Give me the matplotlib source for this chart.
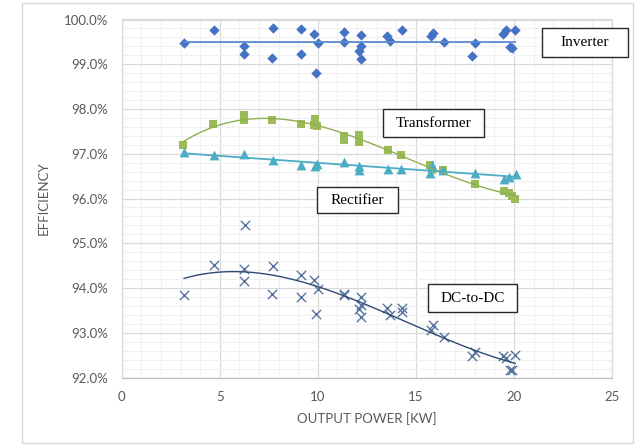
import numpy as np
import matplotlib
matplotlib.use("Agg")
import matplotlib.pyplot as plt
from matplotlib.patches import Rectangle
from matplotlib.ticker import MultipleLocator, FuncFormatter

# ---------------- data (percent) ----------------
inv_x = [3.18, 4.69, 6.22, 6.22, 7.69, 7.66, 9.15, 9.15, 9.83, 10.02, 9.91, 11.32, 11.35,
         12.18, 12.18, 12.08, 12.18, 13.55, 13.66, 14.27, 15.77, 15.89, 16.44, 18.0, 17.86,
         19.45, 19.59, 20.06, 19.79, 19.91]
inv_y = [99.48, 99.76, 99.41, 99.22, 99.81, 99.15, 99.78, 99.22, 99.68, 99.48, 98.81, 99.71, 99.50,
         99.66, 99.41, 99.30, 99.12, 99.64, 99.52, 99.77, 99.63, 99.70, 99.50, 99.48, 99.19,
         99.67, 99.77, 99.77, 99.39, 99.37]

tr_x = [3.15, 4.64, 6.22, 6.22, 7.66, 9.15, 9.88, 9.79, 9.98, 11.32, 11.32, 12.11, 12.11,
        13.60, 14.23, 15.72, 15.84, 16.40, 18.0, 19.49, 19.74, 19.91, 20.06]
tr_y = [97.19, 97.67, 97.87, 97.75, 97.75, 97.67, 97.78, 97.64, 97.61, 97.39, 97.30, 97.41, 97.27,
        97.08, 96.97, 96.74, 96.63, 96.63, 96.32, 96.16, 96.13, 96.06, 96.00]

re_x = [3.18, 4.69, 6.22, 7.69, 9.15, 9.88, 9.95, 11.32, 12.11, 12.11, 13.60, 14.23, 15.72,
        15.84, 16.40, 18.0, 19.49, 19.74, 20.08]
re_y = [97.04, 96.98, 97.00, 96.86, 96.75, 96.72, 96.78, 96.81, 96.72, 96.63, 96.67, 96.67, 96.58,
        96.74, 96.63, 96.58, 96.43, 96.49, 96.54]

dc_x = [6.27, 4.69, 6.22, 6.22, 3.18, 7.69, 7.66, 9.15, 9.15, 9.83, 10.02, 9.91, 11.32, 11.35,
        12.18, 12.18, 12.08, 12.18, 13.55, 13.66, 14.27, 14.27, 15.77, 15.89, 16.44, 18.0, 17.86,
        19.45, 19.59, 20.06, 19.79, 19.91]
dc_y = [95.41, 94.52, 94.43, 94.15, 93.85, 94.49, 93.87, 94.30, 93.80, 94.17, 93.98, 93.43, 93.87,
        93.85, 93.80, 93.61, 93.52, 93.36, 93.56, 93.39, 93.56, 93.47, 93.06, 93.17, 92.91, 92.56,
        92.47, 92.47, 92.43, 92.50, 92.17, 92.16]

labels = ["Inverter", "Transformer", "Rectifier", "DC-to-DC"]
x_ticks = [0, 5, 10, 15, 20, 25]

# ---------------- figure ----------------
W, H = 641, 448
fig = plt.figure(figsize=(W / 100, H / 100), dpi=100)
fig.patch.set_facecolor("white")

# outer chart border
fig.patches.append(Rectangle((22 / W, 1 - 443 / H), (633 - 22) / W, (443 - 3) / H,
                             transform=fig.transFigure, fill=False,
                             edgecolor="#D9D9D9", linewidth=1.0))

L, R, T, B = 121.7, 612, 19.5, 377.5
ax = fig.add_axes([L / W, 1 - B / H, (R - L) / W, (B - T) / H])
ax.set_xlim(0, 25)
ax.set_ylim(92, 100)

ax.xaxis.set_major_locator(MultipleLocator(5))
ax.xaxis.set_minor_locator(MultipleLocator(1))
ax.yaxis.set_major_locator(MultipleLocator(1))
ax.yaxis.set_minor_locator(MultipleLocator(0.2))
ax.set_xticks(x_ticks)
ax.yaxis.set_major_formatter(FuncFormatter(lambda v, p: f"{v:.1f}%"))

ax.grid(which="major", color="#D9D9D9", linewidth=0.9)
ax.grid(which="minor", color="#F0F0F0", linewidth=0.8)
ax.set_axisbelow(True)
for s in ax.spines.values():
    s.set_color("#D9D9D9")
    s.set_linewidth(0.9)
ax.spines["bottom"].set_color("#BFBFBF")
ax.tick_params(which="both", length=0, colors="#595959", labelsize=9.5, pad=10)
for lab in ax.get_xticklabels() + ax.get_yticklabels():
    lab.set_fontfamily("Lato")

ax.set_xlabel("OUTPUT POWER [KW]", color="#595959", fontsize=9.5, family="Lato", labelpad=6)
ax.set_ylabel("EFFICIENCY", color="#595959", fontsize=9.5, family="Lato", labelpad=10)

# ---------------- series ----------------
c_inv, c_tr, c_re, c_dc = "#4472C4", "#9BBB59", "#4BACC6", "#56739F"

ax.scatter(inv_x, inv_y, marker="D", s=28, color=c_inv, zorder=3, linewidths=0)
ax.scatter(tr_x, tr_y, marker="s", s=40, color=c_tr, zorder=3, linewidths=0)
ax.scatter(re_x, re_y, marker="^", s=50, color=c_re, zorder=3, linewidths=0)
ax.scatter(dc_x, dc_y, marker="x", s=45, color=c_dc, zorder=3, linewidths=1.0)

def trend(xs, ys, deg, color, lw):
    p = np.polyfit(xs, ys, deg)
    xx = np.linspace(min(xs), max(xs), 200)
    ax.plot(xx, np.polyval(p, xx), color=color, lw=lw, zorder=4)

trend(inv_x, inv_y, 0, "#5B8BD0", 1.3)
trend(tr_x, tr_y, 3, "#8FB050", 1.0)
trend(re_x, re_y, 1, "#4BACC6", 1.3)
trend(dc_x, dc_y, 3, "#2F4A72", 1.0)

# ---------------- text boxes ----------------
boxes = [(541.7, 28.3, 627.7, 57.3), (382.7, 109.3, 484.3, 137.3),
         (316.7, 187.3, 397.7, 213.3), (427.7, 284.0, 517.3, 312.3)]
for lab, (x0, y0, x1, y1) in zip(labels, boxes):
    fig.patches.append(Rectangle((x0 / W, 1 - y1 / H), (x1 - x0) / W, (y1 - y0) / H,
                                 transform=fig.transFigure, facecolor="white",
                                 edgecolor="#262626", linewidth=1.0, zorder=5))
    fig.text((x0 + x1) / 2 / W, 1 - (y0 + y1) / 2 / H, lab, ha="center", va="center",
             family="Liberation Serif", fontsize=11, color="black", zorder=6)

fig.savefig("out.png", dpi=100)
